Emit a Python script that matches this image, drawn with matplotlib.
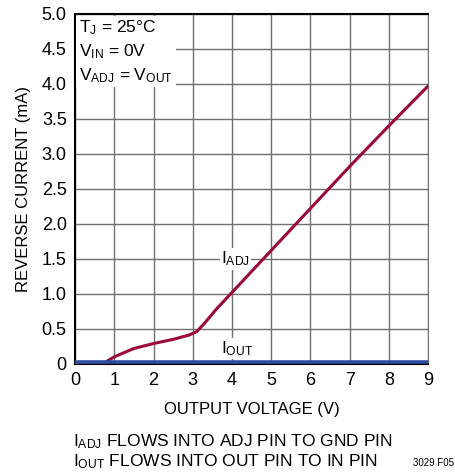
import matplotlib
matplotlib.use("Agg")
import matplotlib.pyplot as plt
import numpy as np

plt.rcParams['font.family'] = ['Liberation Sans', 'DejaVu Sans']
plt.rcParams['mathtext.fontset'] = 'custom'
plt.rcParams['mathtext.rm'] = 'Liberation Sans'
plt.rcParams['mathtext.it'] = 'Liberation Sans'

# data
v_adj = np.array([0, 0.7, 1.0, 1.5, 2.0, 2.5, 2.9, 3.1, 3.3, 3.6, 4.0, 5.0, 6.0, 7.0, 8.0, 9.0])
i_adj = np.array([0, 0, 0.1, 0.22, 0.29, 0.35, 0.41, 0.46, 0.58, 0.78, 1.02, 1.62, 2.22, 2.82, 3.4, 3.97])
v_out = np.array([0, 9])
i_out = np.array([0.02, 0.02])

red = "#9b0a3a"
blue = "#2e4ea3"

fig = plt.figure(figsize=(4.55, 4.75), dpi=100)
ax = fig.add_axes([0.165, 0.234, 0.776, 0.737])

ax.plot(v_adj, i_adj, color=red, lw=2.2, zorder=3)
ax.plot(v_out, i_out, color=blue, lw=2.6, zorder=4)

ax.set_xlim(0, 9)
ax.set_ylim(0, 5)
ax.set_xticks(np.arange(0, 10, 1))
ax.set_yticks(np.arange(0, 5.01, 0.5))
ax.set_yticklabels([f"{v:.1f}" if v > 0 else "0" for v in np.arange(0, 5.01, 0.5)])
ax.grid(True, color="#707070", lw=1.0)
ax.set_axisbelow(True)
ax.tick_params(length=0, labelsize=13, pad=6)
for s in ["left", "bottom", "top"]:
    ax.spines[s].set_color("black")
    ax.spines[s].set_linewidth(1.5)
ax.spines["right"].set_color("#707070")

ax.set_xlabel("OUTPUT VOLTAGE (V)", fontsize=12, labelpad=9)
ax.set_ylabel("REVERSE CURRENT (mA)", fontsize=12, labelpad=8)

ax.text(0.1, 4.93, "T$_{\\mathregular{J}}$ = 25°C\nV$_{\\mathregular{IN}}$ = 0V\nV$_{\\mathregular{ADJ}}$ = V$_{\\mathregular{OUT}}$",
        fontsize=12.5, va="top", ha="left", linespacing=1.35, zorder=5,
        bbox=dict(facecolor="white", edgecolor="none", pad=2))
ax.text(3.72, 1.5, "I$_{\\mathregular{ADJ}}$", fontsize=12.5, va="center", ha="left", zorder=5,
        bbox=dict(facecolor="white", edgecolor="none", pad=1))
ax.text(3.72, 0.22, "I$_{\\mathregular{OUT}}$", fontsize=12.5, va="center", ha="left", zorder=5,
        bbox=dict(facecolor="white", edgecolor="none", pad=1))

fig.text(0.16, 0.05, "I$_{\\mathregular{ADJ}}$ FLOWS INTO ADJ PIN TO GND PIN\nI$_{\\mathregular{OUT}}$ FLOWS INTO OUT PIN TO IN PIN",
         fontsize=12.5, va="center", ha="left", linespacing=1.1)
fig.text(0.998, 0.025, "3029 F05", fontsize=7, ha="right", va="center")

fig.savefig("out.png", dpi=100)
